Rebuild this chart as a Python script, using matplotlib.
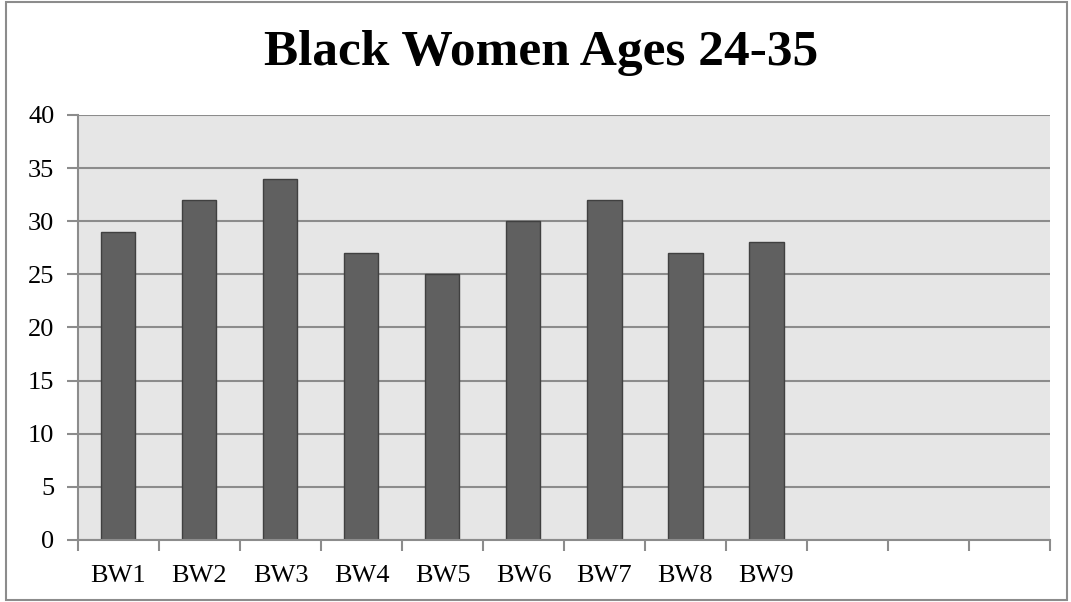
import matplotlib.pyplot as plt
import numpy as np

categories = ["BW1", "BW2", "BW3", "BW4", "BW5", "BW6", "BW7", "BW8", "BW9"]
values = [29, 32, 34, 27, 25, 30, 32, 27, 28]
n_slots = 12
y_ticks = [0, 5, 10, 15, 20, 25, 30, 35, 40]

plt.rcParams['font.family'] = ['Liberation Serif', 'DejaVu Serif']

fig = plt.figure(figsize=(10.71, 6.02), dpi=100)
ax = fig.add_axes([0.0728, 0.103, 0.9076, 0.706])

x = np.arange(len(categories))
ax.set_axisbelow(True)
ax.bar(x, values, width=0.42, color='#606060', edgecolor='#404040', linewidth=1)

ax.set_facecolor('#e6e6e6')
ax.set_xlim(-0.5, n_slots - 0.5)
ax.set_ylim(0, 40)

ax.set_yticks(y_ticks)
ax.yaxis.grid(True, color='#8c8c8c', linewidth=1.5)
ax.tick_params(axis='y', length=8, width=1.5, color='#8c8c8c', labelsize=19, pad=9)

ax.set_xticks(x)
ax.set_xticklabels(categories)
ax.set_xticks(np.arange(n_slots + 1) - 0.5, minor=True)
ax.tick_params(axis='x', which='major', length=0, labelsize=19, pad=18)
ax.tick_params(axis='x', which='minor', length=8, width=1.5, color='#8c8c8c')

for side in ['top', 'right']:
    ax.spines[side].set_visible(False)
for side in ['left', 'bottom']:
    ax.spines[side].set_color('#8c8c8c')
    ax.spines[side].set_linewidth(1.5)

fig.text(0.505, 0.912, "Black Women Ages 24-35", ha='center', va='center',
         fontsize=37, fontweight='bold')

# outer chart border
border = plt.Rectangle((0.006, 0.003), 0.99, 0.994, transform=fig.transFigure,
                       fill=False, edgecolor='#8c8c8c', linewidth=1.5)
fig.patches.append(border)

fig.savefig('out.png', dpi=100)
